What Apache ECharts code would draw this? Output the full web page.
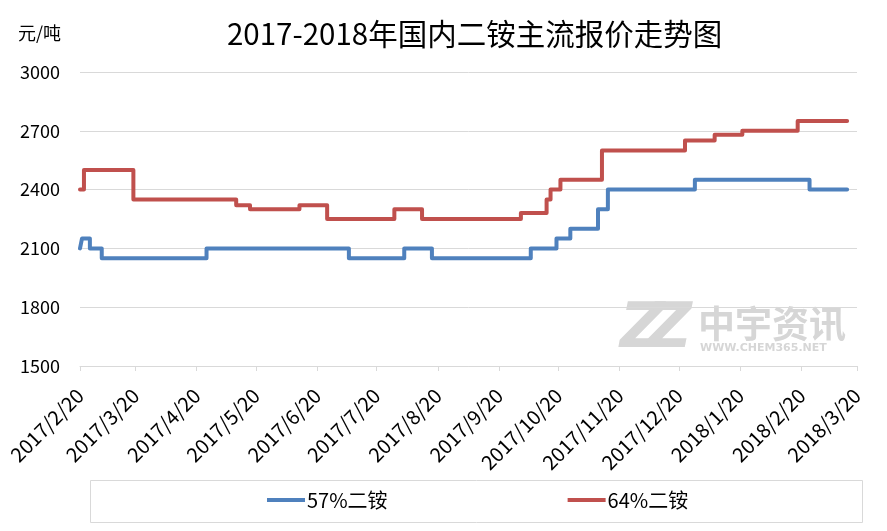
<!DOCTYPE html>
<html><head><meta charset="utf-8">
<script src="https://cdn.jsdelivr.net/npm/echarts@6/dist/echarts.min.js"></script>
<style>html,body{margin:0;padding:0;background:#fff}#c{width:887px;height:531px}</style>
</head><body><div id="c"></div>
<script>
const titleText = '2017-2018年国内二铵主流报价走势图';
const unitText = '元/吨';
const seriesNames = ['57%二铵', '64%二铵'];
const startDate = '2017/2/20';
const endDate = '2018/3/20';
const yTicks = [1500, 1800, 2100, 2400, 2700, 3000];
// change points: [date, price] (price holds until next point)
const dap57 = [
  ['2017/2/20', 2100], ['2017/2/21', 2150], ['2017/2/25', 2100], ['2017/3/3', 2050],
  ['2017/4/25', 2100], ['2017/7/6', 2050], ['2017/8/3', 2100], ['2017/8/17', 2050],
  ['2017/10/6', 2100], ['2017/10/19', 2150], ['2017/10/26', 2200], ['2017/11/9', 2300],
  ['2017/11/14', 2400], ['2017/12/28', 2450], ['2018/2/24', 2400], ['2018/3/15', 2400]
];
const dap64 = [
  ['2017/2/20', 2400], ['2017/2/22', 2500], ['2017/3/19', 2350], ['2017/5/10', 2320],
  ['2017/5/17', 2300], ['2017/6/11', 2320], ['2017/6/25', 2250], ['2017/7/29', 2300],
  ['2017/8/12', 2250], ['2017/10/1', 2280], ['2017/10/14', 2350], ['2017/10/16', 2400],
  ['2017/10/21', 2450], ['2017/11/11', 2600], ['2017/12/23', 2650], ['2018/1/7', 2680],
  ['2018/1/21', 2700], ['2018/2/18', 2750], ['2018/3/15', 2750]
];

// daily category axis
const days = [];
(function(){
  const p = s => { const a = s.split('/').map(Number); return new Date(a[0], a[1]-1, a[2]); };
  const d = p(startDate), e = p(endDate);
  while (d <= e) { days.push(d.getFullYear()+'/'+(d.getMonth()+1)+'/'+d.getDate()); d.setDate(d.getDate()+1); }
})();
const isTick = (i, v) => /\/20$/.test(v);

const chart = echarts.init(document.getElementById('c'), null, {renderer:'canvas'});
const font = "'Noto Sans CJK SC','Noto Sans',sans-serif";
chart.setOption({
  animation: false,
  backgroundColor: '#fff',
  title: { text: titleText, left: 222, top: 14,
    textStyle: { fontFamily: font, fontSize: 29.5, fontWeight: 'normal', color: '#000' } },
  grid: { left: 80, right: 30, top: 72, bottom: 165 },
  legend: { data: seriesNames, left: 262, top: 485, itemGap: 180, itemWidth: 38, itemHeight: 4,
    icon: 'rect', textStyle: { fontFamily: font, fontSize: 20, color: '#000', padding: [0,0,0,-3] } },
  graphic: [
    { type: 'rect', left: 88, top: 478, shape: { width: 772, height: 42 },
      style: { fill: 'none', stroke: '#d9d9d9', lineWidth: 1 }, z: -1 },
    { type: 'text', left: 18, top: 24, style: { text: unitText, font: "18px 'Noto Sans CJK SC'", fill: '#000' } },
    { type: 'text', left: 620, top: 300, style: { text: 'Z', font: "italic bold 62px 'DejaVu Sans'", fill: '#d6d6d6' } },
    { type: 'text', left: 647, top: 300, style: { text: 'Z', font: "italic bold 62px 'DejaVu Sans'", fill: '#d6d6d6' } },
    { type: 'text', left: 698, top: 305, style: { text: '中宇资讯', font: "bold 37px 'Noto Sans CJK SC'", fill: '#d6d6d6' } },
    { type: 'text', left: 700, top: 343, style: { text: 'WWW.CHEM365.NET', font: "bold 11px 'DejaVu Sans'", fill: '#d6d6d6' } }
  ],
  xAxis: {
    type: 'category', data: days, boundaryGap: false,
    axisLine: { lineStyle: { color: '#d9d9d9' } },
    axisTick: { interval: isTick, length: 5, lineStyle: { color: '#d9d9d9' } },
    axisLabel: { interval: isTick, rotate: 45, fontFamily: font, fontSize: 20, color: '#000', margin: 26 },
    splitLine: { show: false }
  },
  yAxis: {
    type: 'value', min: yTicks[0], max: yTicks[yTicks.length-1], interval: 300,
    axisLine: { show: false }, axisTick: { show: false },
    axisLabel: { fontFamily: font, fontSize: 18, color: '#000', margin: 20, formatter: v => String(v) },
    splitLine: { lineStyle: { color: '#d9d9d9' } }
  },
  series: [
    { name: seriesNames[0], type: 'line', step: 'end', data: dap57, showSymbol: false,
      lineStyle: { width: 4, color: '#4F81BD', cap: 'round', join: 'round' }, itemStyle: { color: '#4F81BD' } },
    { name: seriesNames[1], type: 'line', step: 'end', data: dap64, showSymbol: false,
      lineStyle: { width: 4, color: '#C0504D', cap: 'round', join: 'round' }, itemStyle: { color: '#C0504D' } }
  ]
});
</script></body></html>
